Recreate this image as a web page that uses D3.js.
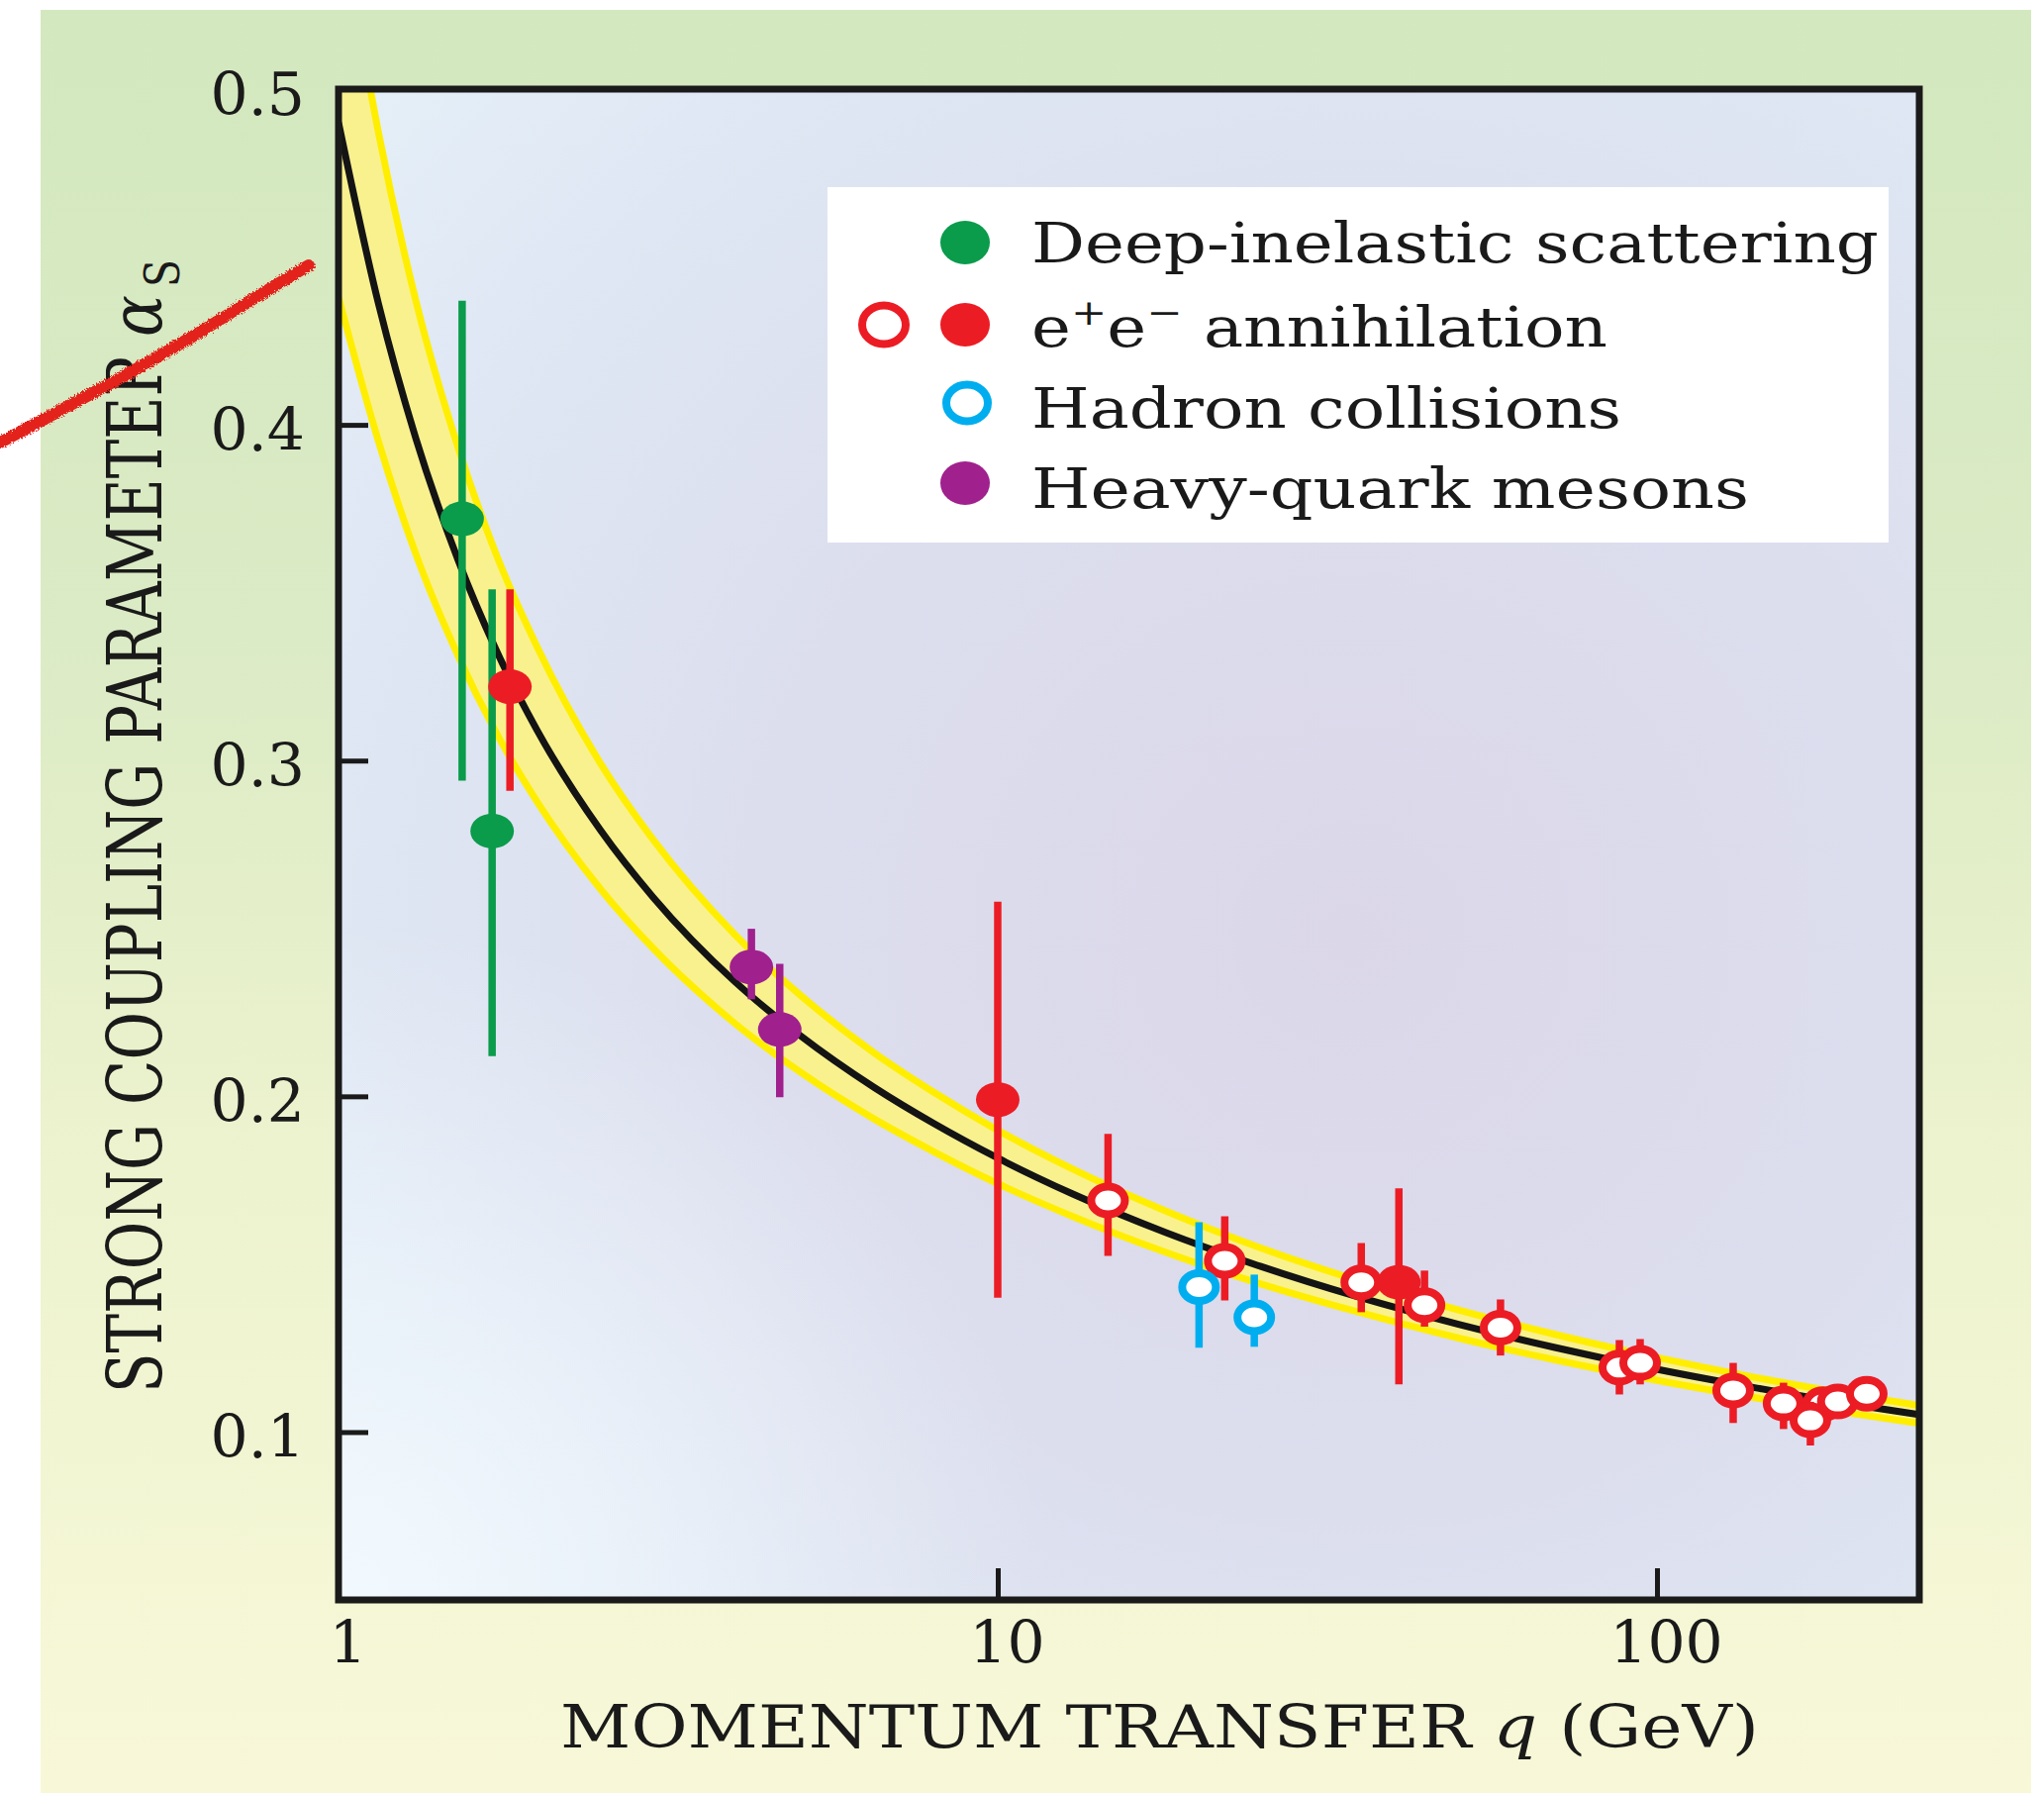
<!DOCTYPE html>
<html>
<head>
<meta charset="utf-8">
<script src="https://cdn.jsdelivr.net/npm/d3@7"></script>
<style>
  html, body { margin: 0; padding: 0; background: #ffffff; }
  svg { display: block; }
  text { font-family: "DejaVu Serif", "Liberation Serif", serif; fill: #1a1a1a; }
</style>
</head>
<body>
<svg id="chart" width="2065" height="1811"></svg>
<script>
// ---- Running coupling: central curve and uncertainty band ----
const curveQ     = [1, 1.15, 1.31, 1.52, 1.73, 2, 2.5, 3, 4, 5, 6.5, 8, 10, 13, 18, 25, 35, 50, 70, 100, 140, 200, 250];
const curveAlpha = [0.490, 0.436, 0.396, 0.3595, 0.3334, 0.3091, 0.2791, 0.2593, 0.2340, 0.2183, 0.2026, 0.1919, 0.1816, 0.1709, 0.1594, 0.1494, 0.1404, 0.1321, 0.1252, 0.1187, 0.1133, 0.1081, 0.1052];
const bandUpper  = [0.555, 0.487, 0.437, 0.393, 0.362, 0.334, 0.299, 0.2765, 0.2480, 0.2304, 0.2129, 0.2012, 0.1899, 0.1783, 0.1658, 0.1549, 0.1453, 0.1364, 0.1291, 0.1222, 0.1164, 0.1110, 0.1079];
const bandLower  = [0.438, 0.395, 0.3615, 0.331, 0.3087, 0.2878, 0.2616, 0.2441, 0.2216, 0.2074, 0.1932, 0.1835, 0.1740, 0.1642, 0.1535, 0.1442, 0.1359, 0.1280, 0.1215, 0.1154, 0.1103, 0.1054, 0.1026];

// ---- Measurements: q (GeV), alpha_s, error bar low / high ----
const disQ     = [1.54, 1.71];
const disAlpha = [0.372, 0.279];
const disLo    = [0.294, 0.212];
const disHi    = [0.437, 0.351];

const eeFilledQ     = [1.82, 10.0, 40.6];
const eeFilledAlpha = [0.322, 0.199, 0.1446];
const eeFilledLo    = [0.291, 0.140, 0.1142];
const eeFilledHi    = [0.351, 0.258, 0.1726];

const eeOpenQ     = [14.7, 22.1, 35.6, 44.4, 57.9, 87.7, 94.3, 130.5, 155.6, 178.6, 170.9, 188.1, 208.1];
const eeOpenAlpha = [0.169, 0.151, 0.1446, 0.1378, 0.1311, 0.1192, 0.1206, 0.1124, 0.1085, 0.1083, 0.1035, 0.1091, 0.1114];
const eeOpenLo    = [0.1525, 0.1392, 0.1357, 0.1314, 0.1228, 0.1112, 0.1142, 0.1027, 0.1009, 0.1045, 0.0960, 0.1060, 0.1088];
const eeOpenHi    = [0.1888, 0.1643, 0.1563, 0.1481, 0.1395, 0.1274, 0.1277, 0.1206, 0.1147, 0.1115, 0.1090, 0.1120, 0.1140];

const hadronQ     = [20.2, 24.5];
const hadronAlpha = [0.1432, 0.1342];
const hadronLo    = [0.1251, 0.1254];
const hadronHi    = [0.1625, 0.1469];

const mesonQ     = [4.23, 4.67];
const mesonAlpha = [0.2385, 0.2199];
const mesonLo    = [0.2289, 0.1997];
const mesonHi    = [0.2499, 0.2395];

// ---- Axis ticks ----
const xTicks = [1, 10, 100];
const yTicks = [0.1, 0.2, 0.3, 0.4, 0.5];

// ---- Legend entries ----
const legendLabels = ["Deep-inelastic scattering", "e+e− annihilation", "Hadron collisions", "Heavy-quark mesons"];

const GREEN = "#0a9b4b", RED = "#ec1c24", BLUE = "#00aeef", PURPLE = "#a0208e";

const svg = d3.select("#chart");
const defs = svg.append("defs");

// Outer panel: green at the top fading to pale yellow
const pg = defs.append("linearGradient").attr("id", "panelGrad")
  .attr("x1", 0).attr("y1", 0).attr("x2", 0).attr("y2", 1);
[["0%", "#d3e8bf"], ["35%", "#dbebc5"], ["65%", "#edf3ce"], ["100%", "#f8f8d8"]]
  .forEach(([o, c]) => pg.append("stop").attr("offset", o).attr("stop-color", c));

// Plot area: pale blue edges with a lavender centre
const rg = defs.append("radialGradient").attr("id", "plotGrad")
  .attr("cx", 0.64).attr("cy", 0.56).attr("r", 0.85);
[["0%", "#dbd7e9"], ["45%", "#dcdeee"], ["80%", "#dfe8f4"], ["100%", "#e6f0f8"]]
  .forEach(([o, c]) => rg.append("stop").attr("offset", o).attr("stop-color", c));
// Brighter wash towards the lower-left corner
const wash = defs.append("radialGradient").attr("id", "washGrad")
  .attr("cx", 0).attr("cy", 1).attr("r", 0.45);
wash.append("stop").attr("offset", "0%").attr("stop-color", "#f4fbff").attr("stop-opacity", 0.9);
wash.append("stop").attr("offset", "100%").attr("stop-color", "#f4fbff").attr("stop-opacity", 0);

// Rough edge for the pen stroke
const rough = defs.append("filter").attr("id", "rough").attr("x", "-10%").attr("y", "-10%").attr("width", "120%").attr("height", "120%");
rough.append("feTurbulence").attr("type", "fractalNoise").attr("baseFrequency", 0.6).attr("numOctaves", 2).attr("seed", 3).attr("result", "n");
rough.append("feDisplacementMap").attr("in", "SourceGraphic").attr("in2", "n").attr("scale", 5);

const x = d3.scaleLog().domain([1, 250]).range([342, 1939]);
const y = d3.scaleLinear().domain([0.05, 0.5]).range([1616, 90]);

defs.append("clipPath").attr("id", "plotClip")
  .append("rect").attr("x", 342).attr("y", 90).attr("width", 1597).attr("height", 1526);

svg.append("rect").attr("x", 41).attr("y", 10).attr("width", 2011).attr("height", 1801)
  .attr("fill", "url(#panelGrad)");
svg.append("rect").attr("x", 342).attr("y", 90).attr("width", 1597).attr("height", 1526)
  .attr("fill", "url(#plotGrad)");
svg.append("rect").attr("x", 342).attr("y", 90).attr("width", 1597).attr("height", 1526)
  .attr("fill", "url(#washGrad)");

// ---- Legend box ----
const legend = svg.append("g");
legend.append("rect").attr("x", 836).attr("y", 189).attr("width", 1072).attr("height", 359).attr("fill", "#ffffff");

// ---- Curve and band ----
const plot = svg.append("g").attr("clip-path", "url(#plotClip)");
const bandData = curveQ.map((q, i) => ({ q, a: curveAlpha[i], up: bandUpper[i], lo: bandLower[i] }));

plot.append("path").datum(bandData)
  .attr("d", d3.area().x(d => x(d.q)).y0(d => y(d.lo)).y1(d => y(d.up)).curve(d3.curveMonotoneX))
  .attr("fill", "#f9f18e");
["up", "lo"].forEach(k => {
  plot.append("path").datum(bandData)
    .attr("d", d3.line().x(d => x(d.q)).y(d => y(d[k])).curve(d3.curveMonotoneX))
    .attr("fill", "none").attr("stroke", "#ffee00").attr("stroke-width", 7);
});
plot.append("path").datum(bandData)
  .attr("d", d3.line().x(d => x(d.q)).y(d => y(d.a)).curve(d3.curveMonotoneX))
  .attr("fill", "none").attr("stroke", "#141414").attr("stroke-width", 7);

// ---- Data points with error bars ----
function drawSeries(qs, as, los, his, color, filled) {
  const g = plot.append("g");
  const pts = qs.map((q, i) => ({ q, a: as[i], lo: los[i], hi: his[i] }));
  pts.forEach(d => {
    g.append("line")
      .attr("x1", x(d.q)).attr("x2", x(d.q))
      .attr("y1", y(d.lo)).attr("y2", y(d.hi))
      .attr("stroke", color).attr("stroke-width", 7.5);
    if (filled) {
      g.append("ellipse").attr("cx", x(d.q)).attr("cy", y(d.a))
        .attr("rx", 22).attr("ry", 17.5).attr("fill", color);
    } else {
      g.append("ellipse").attr("cx", x(d.q)).attr("cy", y(d.a))
        .attr("rx", 17).attr("ry", 14).attr("fill", "#ffffff")
        .attr("stroke", color).attr("stroke-width", 8);
    }
  });
}
drawSeries(disQ, disAlpha, disLo, disHi, GREEN, true);
drawSeries(eeFilledQ, eeFilledAlpha, eeFilledLo, eeFilledHi, RED, true);
drawSeries(mesonQ, mesonAlpha, mesonLo, mesonHi, PURPLE, true);
drawSeries(eeOpenQ, eeOpenAlpha, eeOpenLo, eeOpenHi, RED, false);
drawSeries(hadronQ, hadronAlpha, hadronLo, hadronHi, BLUE, false);

// ---- Axes (inward ticks) ----
const yAxis = svg.append("g").attr("transform", "translate(342,0)")
  .call(d3.axisLeft(y).tickValues(yTicks).tickSize(-30).tickPadding(34).tickFormat(d3.format(".1f")));
const xAxis = svg.append("g").attr("transform", "translate(0,1616)")
  .call(d3.axisBottom(x).tickValues(xTicks).tickSize(-32).tickFormat(d3.format("d")));
[yAxis, xAxis].forEach(a => {
  a.select(".domain").remove();
  a.selectAll(".tick line").attr("stroke", "#1a1a1a").attr("stroke-width", 5);
  a.selectAll(".tick text").style("font-family", "'DejaVu Serif', serif").style("font-size", "60px").attr("fill", "#1a1a1a");
});
yAxis.selectAll(".tick text").attr("dy", "0.42em");
xAxis.selectAll(".tick text").attr("y", 64).attr("dy", 0).attr("dx", 9);

// Frame
svg.append("rect").attr("x", 342).attr("y", 90).attr("width", 1597).attr("height", 1526)
  .attr("fill", "none").attr("stroke", "#1a1a1a").attr("stroke-width", 7);

// ---- Legend entries ----
const rowY = [245, 328, 407, 488];
const textBase = [265, 350, 432, 513];
const textLen = [856, 582, 596, 725];

legend.append("ellipse").attr("cx", 975).attr("cy", rowY[0]).attr("rx", 25).attr("ry", 22).attr("fill", GREEN);
legend.append("ellipse").attr("cx", 893).attr("cy", rowY[1]).attr("rx", 22).attr("ry", 19.5)
  .attr("fill", "#ffffff").attr("stroke", RED).attr("stroke-width", 8);
legend.append("ellipse").attr("cx", 975).attr("cy", rowY[1]).attr("rx", 25).attr("ry", 22).attr("fill", RED);
legend.append("ellipse").attr("cx", 977).attr("cy", rowY[2]).attr("rx", 21).attr("ry", 18.5)
  .attr("fill", "#ffffff").attr("stroke", BLUE).attr("stroke-width", 8);
legend.append("ellipse").attr("cx", 975).attr("cy", rowY[3]).attr("rx", 25).attr("ry", 22).attr("fill", PURPLE);

legendLabels.forEach((lab, i) => {
  const t = legend.append("text").attr("x", 1042).attr("y", textBase[i])
    .attr("textLength", textLen[i]).attr("lengthAdjust", "spacingAndGlyphs")
    .style("font-size", "56px");
  if (i === 1) {
    t.append("tspan").text("e");
    t.append("tspan").attr("dy", -22).style("font-size", "36px").text("+");
    t.append("tspan").attr("dy", 22).text("e");
    t.append("tspan").attr("dy", -22).style("font-size", "36px").text("−");
    t.append("tspan").attr("dy", 22).text(" annihilation");
  } else {
    t.text(lab);
  }
});

// ---- Axis titles ----
const xt = svg.append("text").attr("x", 566).attr("y", 1765)
  .attr("textLength", 1211).attr("lengthAdjust", "spacingAndGlyphs")
  .style("font-size", "60px");
xt.append("tspan").text("MOMENTUM TRANSFER ");
xt.append("tspan").style("font-style", "italic").text("q");
xt.append("tspan").text(" (GeV)");

const yt = svg.append("g").attr("transform", "translate(163,0) rotate(-90)");
yt.append("text").attr("x", -1407).attr("y", 0)
  .attr("textLength", 1051).attr("lengthAdjust", "spacingAndGlyphs")
  .style("font-size", "77px").text("STRONG COUPLING PARAMETER");
yt.append("text").attr("x", -340).attr("y", 0)
  .attr("textLength", 42).attr("lengthAdjust", "spacingAndGlyphs")
  .style("font-size", "72px").style("font-style", "italic").text("α");
yt.append("text").attr("x", -290).attr("y", 18)
  .attr("textLength", 28).attr("lengthAdjust", "spacingAndGlyphs")
  .style("font-size", "48px").text("S");

// ---- Red pen stroke across the axis title ----
const strokePts = [[0, 447], [40, 426], [80, 404], [120, 383], [156, 362], [195, 340], [230, 318], [270, 293], [312, 268]];
svg.append("path")
  .attr("d", d3.line().curve(d3.curveBasis)(strokePts))
  .attr("fill", "none").attr("stroke", "#e4241b").attr("stroke-width", 12).attr("stroke-linecap", "round")
  .attr("filter", "url(#rough)");
</script>
</body>
</html>
